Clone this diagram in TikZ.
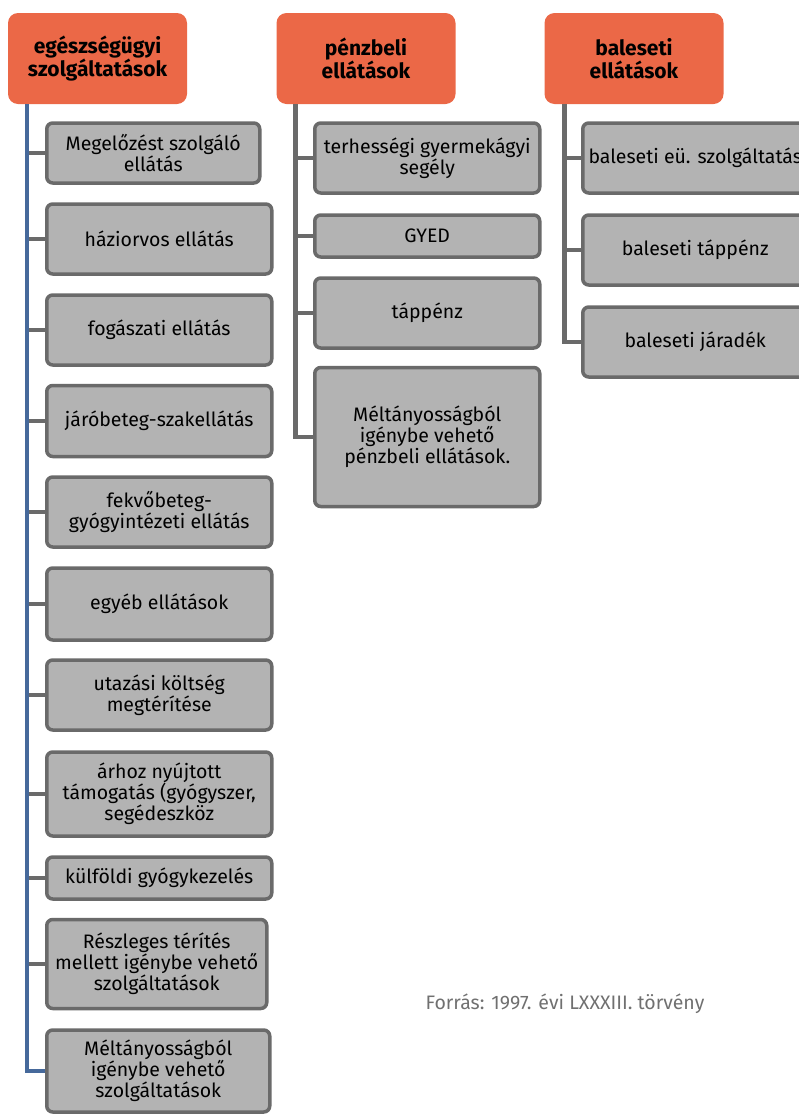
\documentclass[tikz,border=0pt]{standalone}
\usepackage{fontspec}
\setmainfont{Fira Sans}
\usetikzlibrary{positioning}
\definecolor{ebOrange}{HTML}{EB6847}
\definecolor{ebBox}{HTML}{B3B3B3}
\definecolor{ebEdge}{HTML}{6A6A6A}
\definecolor{ebBlue}{HTML}{46699B}
\definecolor{ebNote}{HTML}{707070}
\tikzset{
  ebhead/.style={rectangle,rounded corners=10pt,fill=ebOrange,
                 minimum width=179pt,minimum height=91pt,inner sep=0pt,
                 align=center,font=\fontsize{21}{23}\selectfont\bfseries},
  ebitem/.style={rectangle,rounded corners=6pt,draw=ebEdge,line width=3.5pt,
                 fill=ebBox,inner sep=0pt,align=center,anchor=west,
                 font=\fontsize{19.5}{21}\selectfont},
  eblink/.style={line width=4.5pt,ebEdge,line join=miter},
  ebnote/.style={font=\fontsize{19.5}{21}\selectfont,text=ebNote}
}

\begin{document}
\begin{tikzpicture}[x=1pt,y=-1pt]
    \useasboundingbox (0,0) rectangle (799,1114);

    % headers
    \node[ebhead] (eg) at (97.5,58.5) {egészségügyi\\szolgáltatások};
    \node[ebhead] (pb) at (366,58.5) {pénzbeli\\ellátások};
    \node[ebhead] (bal) at (634,58.5) {baleseti\\ellátások};

    % egészségügyi szolgáltatások
    \node[ebitem,minimum width=213pt,minimum height=60pt] (eg1)
      at (45,153) {Megelőzést szolgáló\\ellátás};
    \node[ebitem,minimum width=225pt,minimum height=70pt] (eg2)
      at (45,239) {háziorvos ellátás};
    \node[ebitem,minimum width=225pt,minimum height=70pt] (eg3)
      at (45,330) {fogászati ellátás};
    \node[ebitem,minimum width=225pt,minimum height=71pt] (eg4)
      at (45,421) {járóbeteg-szakellátás};
    \node[ebitem,minimum width=225pt,minimum height=70pt] (eg5)
      at (45,512) {fekvőbeteg-\\gyógyintézeti ellátás};
    \node[ebitem,minimum width=225pt,minimum height=72pt] (eg6)
      at (45,604) {egyéb ellátások};
    \node[ebitem,minimum width=225pt,minimum height=70pt] (eg7)
      at (45,695) {utazási költség\\megtérítése};
    \node[ebitem,minimum width=225pt,minimum height=84pt] (eg8)
      at (45,794) {árhoz nyújtott\\támogatás (gyógyszer,\\segédeszköz};
    \node[ebitem,minimum width=225pt,minimum height=42pt] (eg9)
      at (45,878) {külföldi gyógykezelés};
    \node[ebitem,minimum width=220pt,minimum height=89pt] (eg10)
      at (45,964) {Részleges térítés\\mellett igénybe vehető\\szolgáltatások};
    \node[ebitem,minimum width=223pt,minimum height=82pt] (eg11)
      at (45,1071) {Méltányosságból\\igénybe vehető\\szolgáltatások};

    % pénzbeli ellátások
    \node[ebitem,minimum width=225pt,minimum height=70pt] (pb1)
      at (313,158) {terhességi gyermekágyi\\segély};
    \node[ebitem,minimum width=225pt,minimum height=42pt] (pb2)
      at (313,236) {GYED};
    \node[ebitem,minimum width=225pt,minimum height=70pt] (pb3)
      at (313,313) {táppénz};
    \node[ebitem,minimum width=225pt,minimum height=139pt] (pb4)
      at (313,437) {Méltányosságból\\igénybe vehető\\pénzbeli ellátások.};

    % baleseti ellátások
    \node[ebitem,minimum width=225pt,minimum height=70pt] (bal1)
      at (581,158) {baleseti eü. szolgáltatás};
    \node[ebitem,minimum width=225pt,minimum height=70pt] (bal2)
      at (581,250) {baleseti táppénz};
    \node[ebitem,minimum width=225pt,minimum height=70pt] (bal3)
      at (581,342) {baleseti járadék};

    % connectors
    \coordinate (s1) at ([xshift=19pt]eg.south west);
    \coordinate (s2) at ([xshift=19pt]pb.south west);
    \coordinate (s3) at ([xshift=20pt]bal.south west);
    \foreach \i in {1,...,10}
      \draw[eblink] (s1 |- eg\i.west) -- (eg\i.west);
    \draw[eblink,ebBlue] (s1) |- (eg11.west);
    \foreach \i in {1,2,3}
      \draw[eblink] (s2 |- pb\i.west) -- (pb\i.west);
    \draw[eblink] (s2) |- (pb4.west);
    \foreach \i in {1,2}
      \draw[eblink] (s3 |- bal\i.west) -- (bal\i.west);
    \draw[eblink] (s3) |- (bal3.west);

    \node[ebnote] (src) at (565,1004) {Forrás: 1997. évi LXXXIII. törvény};
  \end{tikzpicture}
\end{document}
